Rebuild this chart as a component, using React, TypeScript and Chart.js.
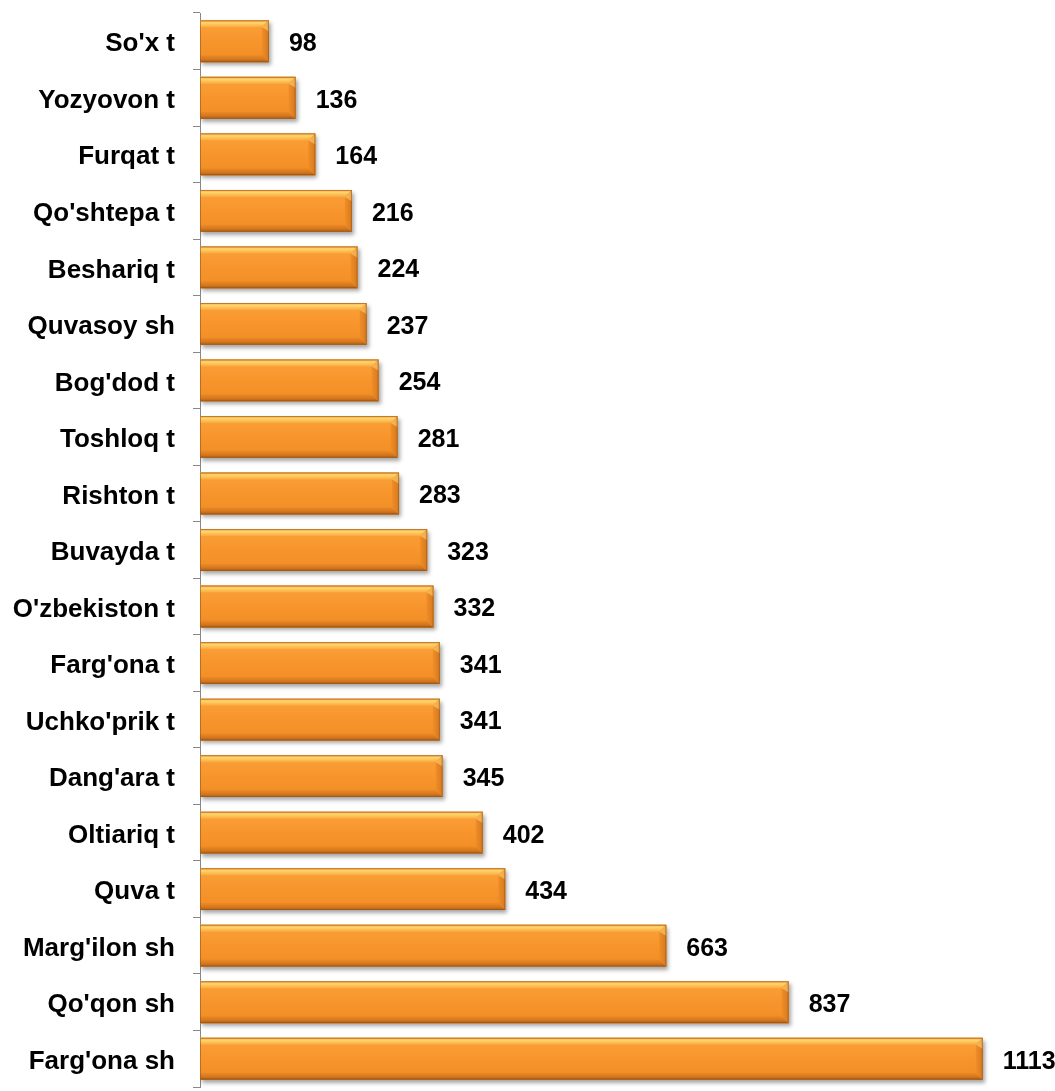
import React, { useEffect, useRef } from "react";
import { Chart, registerables } from "chart.js";

Chart.register(...registerables);

const categories = [
  "So'x t",
  "Yozyovon t",
  "Furqat t",
  "Qo'shtepa t",
  "Beshariq t",
  "Quvasoy sh",
  "Bog'dod t",
  "Toshloq t",
  "Rishton t",
  "Buvayda t",
  "O'zbekiston t",
  "Farg'ona t",
  "Uchko'prik t",
  "Dang'ara t",
  "Oltiariq t",
  "Quva t",
  "Marg'ilon sh",
  "Qo'qon sh",
  "Farg'ona sh",
];

const values = [98, 136, 164, 216, 224, 237, 254, 281, 283, 323, 332, 341, 341, 345, 402, 434, 663, 837, 1113];

const FONT = "'Liberation Sans', Arial, Helvetica, sans-serif";

function poly(ctx: CanvasRenderingContext2D, pts: number[][], fill: any) {
  ctx.beginPath();
  ctx.moveTo(pts[0][0], pts[0][1]);
  for (let i = 1; i < pts.length; i++) ctx.lineTo(pts[i][0], pts[i][1]);
  ctx.closePath();
  ctx.fillStyle = fill;
  ctx.fill();
}

const barStylePlugin = {
  id: "barStyle",
  beforeDatasetsDraw(chart: any) {
    const ctx = chart.ctx;
    ctx.save();
    ctx.shadowColor = "rgba(0,0,0,0.35)";
    ctx.shadowBlur = 4;
    ctx.shadowOffsetX = 2;
    ctx.shadowOffsetY = 3;
  },
  afterDatasetsDraw(chart: any) {
    const ctx = chart.ctx as CanvasRenderingContext2D;
    ctx.restore();
    const meta = chart.getDatasetMeta(0);
    ctx.save();
    meta.data.forEach((el: any) => {
      const x0 = el.base;
      const x1 = el.x;
      const top = el.y - el.height / 2;
      const bot = el.y + el.height / 2;
      const b = 7;
      const face = ctx.createLinearGradient(0, top, 0, bot);
      face.addColorStop(0, "#fba13a");
      face.addColorStop(0.5, "#f7952c");
      face.addColorStop(1, "#f18c24");
      poly(ctx, [[x0, top], [x1, top], [x1, bot], [x0, bot]], face);
      const tg = ctx.createLinearGradient(0, top, 0, top + b);
      tg.addColorStop(0, "#f6a747");
      tg.addColorStop(0.35, "#ffd56c");
      tg.addColorStop(1, "#fba83d");
      poly(ctx, [[x0, top], [x1, top], [x1 - b, top + b], [x0, top + b]], tg);
      const bg = ctx.createLinearGradient(0, bot - b, 0, bot);
      bg.addColorStop(0, "#ec8a25");
      bg.addColorStop(0.6, "#d4761d");
      bg.addColorStop(1, "#a65d1a");
      poly(ctx, [[x0, bot], [x1, bot], [x1 - b, bot - b], [x0, bot - b]], bg);
      const rg = ctx.createLinearGradient(x1 - b, 0, x1, 0);
      rg.addColorStop(0, "#f08d26");
      rg.addColorStop(1, "#d57a20");
      poly(ctx, [[x1, top], [x1, bot], [x1 - b, bot - b], [x1 - b, top + b]], rg);
      poly(ctx, [[x1, top], [x1 - b, top + b], [x1, top + b * 1.6]], "rgba(255,214,120,0.55)");
      ctx.strokeStyle = "rgba(150,85,25,0.6)";
      ctx.lineWidth = 1;
      ctx.strokeRect(x0 + 0.5, top + 0.5, x1 - x0 - 1, bot - top - 1);
    });
    ctx.restore();

    ctx.save();
    ctx.font = `bold 25px ${FONT}`;
    ctx.fillStyle = "#000";
    ctx.textAlign = "left";
    ctx.textBaseline = "middle";
    meta.data.forEach((el: any, i: number) => {
      ctx.fillText(String(values[i]), el.x + 20, el.y + 3);
    });
    ctx.restore();
  },
};

export default function App() {
  const ref = useRef<HTMLCanvasElement | null>(null);
  useEffect(() => {
    if (!ref.current) return;
    const chart = new Chart(ref.current, {
      type: "bar",
      data: {
        labels: categories,
        datasets: [
          {
            data: values,
            backgroundColor: "#f7952c",
            borderWidth: 0,
            barPercentage: 0.74,
            categoryPercentage: 1,
          },
        ],
      },
      options: {
        indexAxis: "y",
        animation: false,
        responsive: false,
        maintainAspectRatio: false,
        layout: { padding: { top: 13, bottom: 4, right: 11, left: 0 } },
        plugins: {
          legend: { display: false },
          tooltip: { enabled: false },
        },
        scales: {
          x: {
            display: false,
            min: 0,
            max: 1200,
          },
          y: {
            afterFit(scale: any) {
              scale.width = 200;
              scale.paddingTop = 0;
              scale.paddingBottom = 0;
            },
            grid: {
              display: true,
              drawOnChartArea: false,
              drawTicks: true,
              tickLength: 7,
              color: "#888888",
              offset: true,
            },
            border: { display: true, color: "#888888", width: 1 },
            ticks: {
              color: "#000",
              padding: 18,
              labelOffset: 3,
              font: { family: FONT, size: 26, weight: "bold" },
            },
          },
        },
      },
      plugins: [barStylePlugin],
    });
    return () => chart.destroy();
  }, []);
  return (
    <div style={{ position: "absolute", left: 0, top: 0, width: 1055, height: 1091, background: "#fff" }}>
      <canvas ref={ref} width={1055} height={1091} style={{ display: "block" }} />
    </div>
  );
}
